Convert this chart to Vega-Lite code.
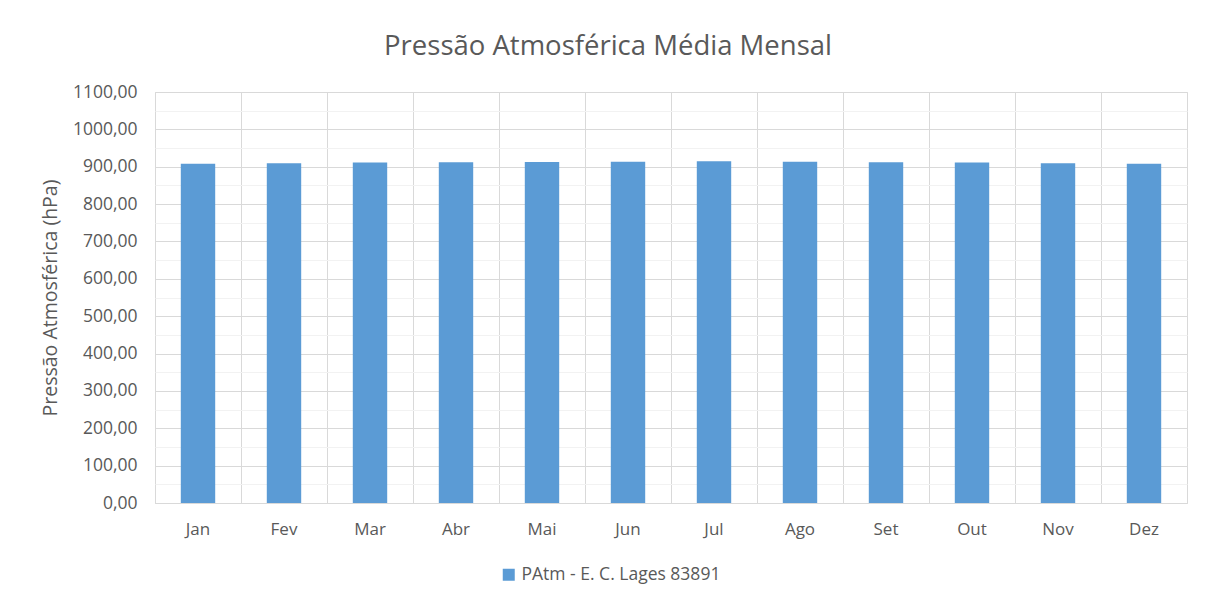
{
  "$schema": "https://vega.github.io/schema/vega-lite/v6.json",
  "width": 1032,
  "height": 411,
  "autosize": {"type": "none"},
  "padding": {"left": 155, "top": 92, "right": 24, "bottom": 103},
  "background": "white",
  "title": {"text": "Pressão Atmosférica Média Mensal", "font": "Open Sans", "fontSize": 27.5, "fontWeight": "normal", "color": "#595959", "anchor": "middle", "dx": -63, "offset": 23},
  "data": {"values": [
    {"mes": "Jan", "pressao": 908.3, "serie": "PAtm - E. C. Lages 83891"},
    {"mes": "Fev", "pressao": 909.0, "serie": "PAtm - E. C. Lages 83891"},
    {"mes": "Mar", "pressao": 911.0, "serie": "PAtm - E. C. Lages 83891"},
    {"mes": "Abr", "pressao": 911.8, "serie": "PAtm - E. C. Lages 83891"},
    {"mes": "Mai", "pressao": 912.6, "serie": "PAtm - E. C. Lages 83891"},
    {"mes": "Jun", "pressao": 913.6, "serie": "PAtm - E. C. Lages 83891"},
    {"mes": "Jul", "pressao": 914.4, "serie": "PAtm - E. C. Lages 83891"},
    {"mes": "Ago", "pressao": 913.6, "serie": "PAtm - E. C. Lages 83891"},
    {"mes": "Set", "pressao": 911.8, "serie": "PAtm - E. C. Lages 83891"},
    {"mes": "Out", "pressao": 911.0, "serie": "PAtm - E. C. Lages 83891"},
    {"mes": "Nov", "pressao": 909.0, "serie": "PAtm - E. C. Lages 83891"},
    {"mes": "Dez", "pressao": 908.3, "serie": "PAtm - E. C. Lages 83891"}
  ]},
  "mark": {"type": "bar", "width": {"band": 0.4}},
  "encoding": {
    "x": {
      "field": "mes", "type": "nominal", "sort": null,
      "scale": {"paddingInner": 0, "paddingOuter": 0},
      "axis": {"title": null, "grid": true, "bandPosition": 0, "gridColor": "#d9d9d9", "domain": true, "domainColor": "#d9d9d9", "ticks": false, "labelAngle": 0, "labelPadding": 18, "labelFontSize": 17, "labelFont": "Open Sans", "labelColor": "#595959"}
    },
    "y": {
      "field": "pressao", "type": "quantitative",
      "scale": {"domain": [0, 1100], "nice": false, "zero": true},
      "axis": {
        "title": "Pressão Atmosférica (hPa)", "titleFont": "Open Sans", "titleFontSize": 19.5, "titleFontWeight": "normal", "titleColor": "#595959", "titlePadding": 12,
        "values": [0, 50, 100, 150, 200, 250, 300, 350, 400, 450, 500, 550, 600, 650, 700, 750, 800, 850, 900, 950, 1000, 1050, 1100],
        "labelExpr": "datum.value % 100 === 0 ? replace(format(datum.value, '.2f'), '.', ',') : ''",
        "grid": true,
        "gridColor": {"condition": {"test": "datum.value % 100 === 0", "value": "#d9d9d9"}, "value": "#f2f2f2"},
        "domain": false, "ticks": false, "labelPadding": 18, "labelFontSize": 17.5, "labelFont": "Open Sans", "labelColor": "#595959"
      }
    },
    "color": {
      "field": "serie", "type": "nominal",
      "scale": {"range": ["#5b9bd5"]},
      "legend": {"title": null, "orient": "none", "legendX": 345, "legendY": 474, "symbolType": "square", "symbolSize": 144, "symbolStrokeWidth": 0, "labelFontSize": 17.5, "labelFont": "Open Sans", "labelColor": "#595959", "labelOffset": 4, "labelLimit": 0}
    }
  },
  "config": {"view": {"stroke": "#d9d9d9"}}
}
